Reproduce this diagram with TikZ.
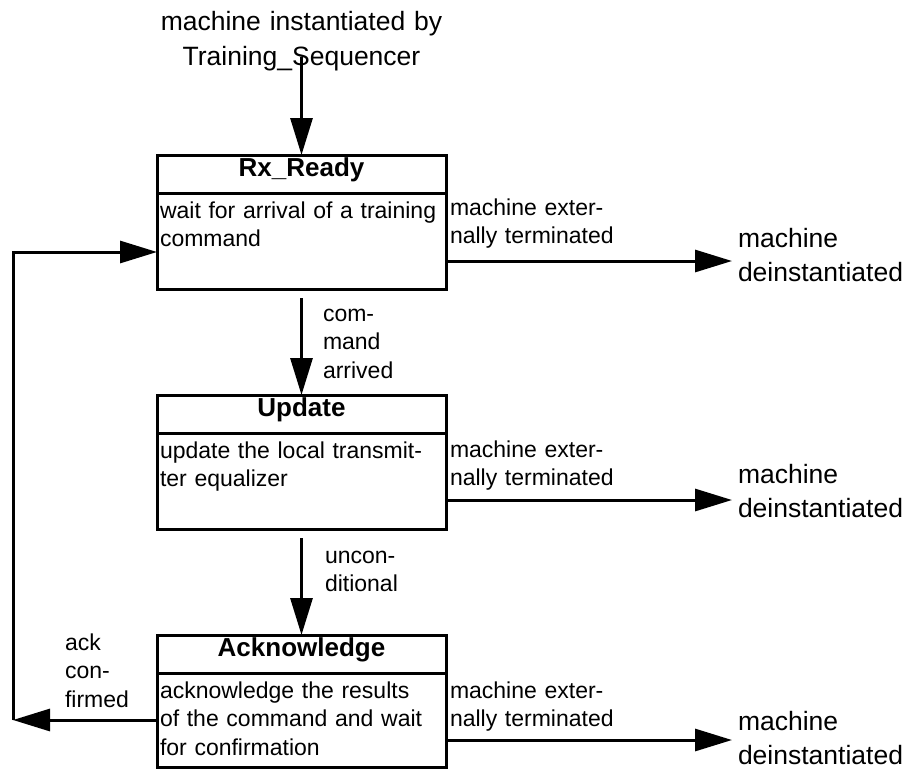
\documentclass[tikz,border=0pt]{standalone}
\usepackage{fontspec}
\setmainfont{Liberation Sans}
\usetikzlibrary{arrows.meta,positioning}

\newcommand{\bodysize}{\fontsize{23}{28.8}\selectfont}
\newcommand{\outsize}{\fontsize{26.5}{34.5}\selectfont}

\tikzset{
  statetitle/.style={draw,line width=3pt,outer sep=0pt,inner sep=0pt,
    minimum width=289pt,minimum height=38pt,text height=19pt,text depth=15pt,
    font=\fontsize{26}{30}\selectfont\bfseries},
  statebody/.style={draw,line width=3pt,outer sep=0pt,inner xsep=3pt,inner ysep=0pt,
    minimum width=289pt,minimum height=96pt,text width=283pt,align=left,
    text height=25pt,text depth=71pt,font=\bodysize},
  lbl/.style={inner sep=0pt,outer sep=0pt,text width=200pt,align=left,
    anchor=base west,font=\bodysize},
  gone/.style={inner xsep=6pt,inner ysep=0pt,outer sep=0pt,text width=170pt,
    align=left,anchor=base west,font=\outsize},
  flow/.style={-{Triangle[length=37pt,width=22pt]},line width=3pt}
}

\begin{document}
\begin{tikzpicture}[x=1pt,y=-1pt]
\useasboundingbox (0,0) rectangle (903,769);

% the three states, top to bottom
\node[statetitle] (rxT) at (301.5,174) {Rx\_Ready};
\node[statebody,below=0pt of rxT] (rx) {wait for arrival of a training\\command};
\node[statetitle,below=106pt of rx] (upT) {Update};
\node[statebody,below=0pt of upT] (up) {update the local transmit-\\ter equalizer};
\node[statetitle,below=106pt of up] (ackT) {Acknowledge};
\node[statebody,below=0pt of ackT,minimum height=94pt,text depth=69pt] (ack)
  {acknowledge the results\\of the command and wait\\for confirmation};

% entry
\node[inner sep=0pt,text width=330pt,align=center,anchor=base,font=\outsize] (init)
  at (301.5,30.5) {machine instantiated by\\Training\_Sequencer};
\coordinate (initEnd) at (301.5,57);
\draw[flow] (initEnd) -- (rxT);

% normal transitions
\draw[flow,shorten <=9pt] (rx) -- (upT);
\node[lbl] (arrivedL) at (323,321) {com-\\mand\\arrived};
\draw[flow,shorten <=9pt] (up) -- (ackT);
\node[lbl] (uncondL) at (325,563) {uncon-\\ditional};

% back to Rx_Ready
\coordinate (loopX) at (13,0);
\draw[flow] (ack.west) -- (ack.west -| loopX);
\draw[flow] (ack.west -| loopX) |- ([yshift=-11pt]rx.west);
\node[lbl] (ackL) at (65,650) {ack\\con-\\firmed};

% external termination
\node[gone] (rxGone) at (732,247) {machine\\deinstantiated};
\node[gone] (upGone) at (732,483) {machine\\deinstantiated};
\node[gone] (ackGone) at (732,730) {machine\\deinstantiated};
\coordinate (rxOut) at ([yshift=-20pt]rx.east);
\coordinate (upOut) at ([yshift=-19pt]up.east);
\coordinate (ackOut) at ([yshift=-20pt]ack.east);
\draw[flow] (rxOut) -- (rxOut -| rxGone.west);
\draw[flow] (upOut) -- (upOut -| upGone.west);
\draw[flow] (ackOut) -- (ackOut -| ackGone.west);
\node[lbl] (rxQuit) at (450,215) {machine exter-\\nally terminated};
\node[lbl] (upQuit) at (450,457) {machine exter-\\nally terminated};
\node[lbl] (ackQuit) at (450,698) {machine exter-\\nally terminated};
\end{tikzpicture}
\end{document}
